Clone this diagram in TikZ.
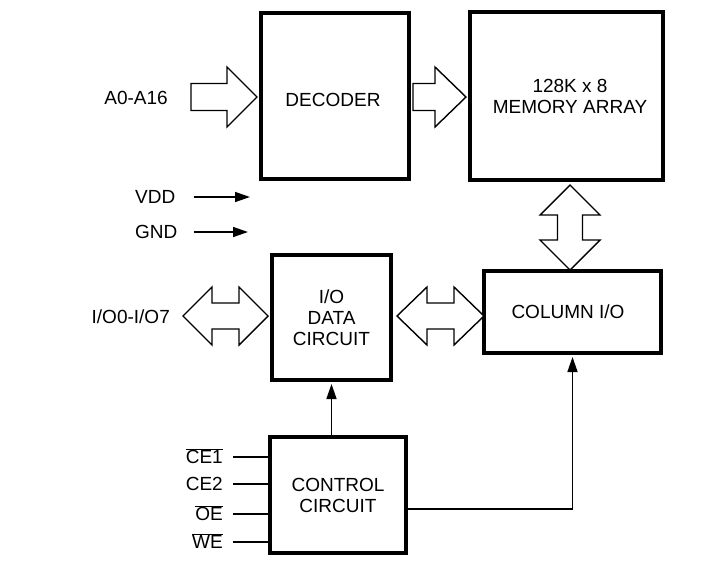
\documentclass[tikz,border=0pt]{standalone}
\usepackage{fontspec}
\setmainfont{Liberation Sans}
\usetikzlibrary{calc,arrows.meta}
\begin{document}
\begin{tikzpicture}[x=1pt,y=-1pt,
  box/.style={draw,line width=4pt,inner sep=0pt,align=center,font=\fontsize{19}{21}\selectfont},
  lbl/.style={inner sep=0pt,font=\fontsize{19}{21}\selectfont},
  blk/.style={draw,line width=1.4pt,fill=white,line join=miter},
  sig/.style={line width=1.5pt,-{Triangle[length=15pt,width=10pt]}},
  wire/.style={line width=1.5pt}]
\useasboundingbox (0,0) rectangle (720,563);
% boxes
\node[box,minimum width=148pt,minimum height=166pt,label={[lbl,yshift=-4pt,xshift=-2pt]center:DECODER}] (dec) at (335,96) {};
\node[box,minimum width=193pt,minimum height=168pt] (mem) at (566.5,96) {\hspace*{7pt}128K x 8\\\hspace*{7pt}MEMORY ARRAY};
\node[box,minimum width=177pt,minimum height=82pt] (col) at (572.5,312) {\hspace*{-9pt}COLUMN I/O};
\node[box,minimum width=119pt,minimum height=125pt] (io) at (331.5,317.5) {I/O\\DATA\\CIRCUIT};
\node[box,minimum width=136pt,minimum height=116pt] (ctrl) at (338,495) {CONTROL\\CIRCUIT};
% labels
\node[lbl,anchor=base east] (a) at (168,104.5) {A0-A16};
\node[lbl,anchor=base west] (vdd) at (135,203.5) {VDD};
\node[lbl,anchor=base west] (gnd) at (135,238.5) {GND};
\node[lbl,anchor=base east] (iol) at (170,323.5) {I/O0-I/O7};
\node[lbl,anchor=base east] (ce1) at (223,463.5) {$\overline{\mbox{CE1}}$};
\node[lbl,anchor=base east] (ce2) at (223,490.5) {CE2};
\node[lbl,anchor=base east] (oe) at (223,520.5) {$\overline{\mbox{OE}}$};
\node[lbl,anchor=base east] (we) at (223,548.5) {$\overline{\mbox{WE}}$};
% power arrows
\coordinate (vddend) at (250,197);
\coordinate (gndend) at (248,232);
\draw[sig] (vdd.east |- vddend) ++(18,0) -- (vddend);
\draw[sig] (gnd.east |- gndend) ++(16,0) -- (gndend);
% block arrow A0-A16 -> decoder
\draw[blk] ($(dec.west)+(-2,1)$) -- ++(-30,-30) -- ++(0,16.5) -- ++(-36,0) -- ++(0,27) -- ++(36,0) -- ++(0,16.5) -- cycle;
% block arrow decoder -> memory
\draw[blk] ($(mem.west)+(-2,1)$) -- ++(-31,-30) -- ++(0,16.5) -- ++(-22,0) -- ++(0,27) -- ++(22,0) -- ++(0,16.5) -- cycle;
% vertical double arrow memory <-> column
\draw[blk] ($(mem.south)+(3.5,3)$) -- ++(30,30) -- ++(-17.5,0) -- ++(0,25) -- ++(17.5,0) -- ++(-30,30) -- ++(-30,-30) -- ++(17.5,0) -- ++(0,-25) -- ++(-17.5,0) -- cycle;
% horizontal double arrow I/O0-I/O7 <-> io
\draw[blk] ($(io.west)+(-2,-1.5)$) -- ++(-29,-29) -- ++(0,16) -- ++(-27,0) -- ++(0,-16) -- ++(-29,29) -- ++(29,29) -- ++(0,-16) -- ++(27,0) -- ++(0,16) -- cycle;
% horizontal double arrow io <-> column
\draw[blk] ($(io.east)+(4,-1.5)$) -- ++(30,-29) -- ++(0,16) -- ++(27,0) -- ++(0,-16) -- ++(30,29) -- ++(-30,29) -- ++(0,-16) -- ++(-27,0) -- ++(0,16) -- cycle;
% control signals
\draw[sig,shorten >=2pt] (io.south |- ctrl.north) -- (io.south);
\draw[sig,shorten >=2pt] ($(ctrl.east)+(0,14)$) -| (col.south);
\draw[wire] ($(ce1.base east)+(10,-6.5)$) -- ($(ce1.base east -| ctrl.west)+(0,-6.5)$);
\draw[wire] ($(ce2.base east)+(10,-6.5)$) -- ($(ce2.base east -| ctrl.west)+(0,-6.5)$);
\draw[wire] ($(oe.base east)+(10,-6.5)$) -- ($(oe.base east -| ctrl.west)+(0,-6.5)$);
\draw[wire] ($(we.base east)+(10,-6.5)$) -- ($(we.base east -| ctrl.west)+(0,-6.5)$);
\end{tikzpicture}
\end{document}
